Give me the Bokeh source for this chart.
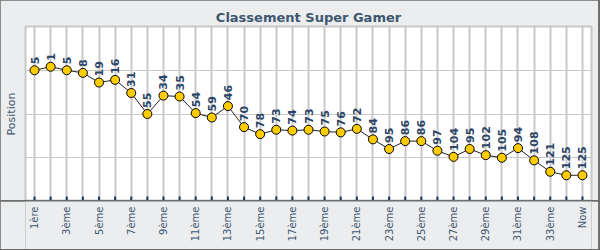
import math
from bokeh.plotting import figure
from bokeh.models import (ColumnDataSource, Range1d, FactorRange, FixedTicker,
                          Grid, CategoricalTicker)
from bokeh.layouts import column
from bokeh.core.properties import value
from bokeh.embed import file_html
from bokeh.resources import INLINE

categories = ["1ère", "2ème", "3ème", "4ème", "5ème", "6ème", "7ème", "8ème", "9ème",
              "10ème", "11ème", "12ème", "13ème", "14ème", "15ème", "16ème", "17ème",
              "18ème", "19ème", "20ème", "21ème", "22ème", "23ème", "24ème", "25ème",
              "26ème", "27ème", "28ème", "29ème", "30ème", "31ème", "32ème", "33ème",
              "34ème", "Now"]
positions = [5, 1, 5, 8, 19, 16, 31, 55, 34, 35, 54, 59, 46, 70, 78, 73, 74, 73,
             75, 76, 72, 84, 95, 86, 86, 97, 104, 95, 102, 105, 94, 108, 121, 125, 125]
y_ticks = [-45, 5, 55, 105, 155]
title_text = "Classement Super Gamer"
y_title = "Position"

FONT = "DejaVu Sans"
TXT = "#3E576F"
BG = "#ECEDEF"
GRID = "#C8C8C8"
TICK = "#1F3A60"
Y_MIN, Y_MAX = -45, 155

src = ColumnDataSource(dict(x=categories, y=positions, lab=[str(v) for v in positions]))
tickmark_src = ColumnDataSource(dict(x=categories, y=[Y_MAX] * len(categories)))
tick_labels = [c for i, c in enumerate(categories) if i % 2 == 0]
label_src = ColumnDataSource(dict(x=tick_labels, y=[1] * len(tick_labels), t=tick_labels))

xr = FactorRange(factors=categories, range_padding=0.0035)

# ---- main chart ----
p = figure(x_range=xr, y_range=Range1d(Y_MAX, Y_MIN),
           frame_width=566, frame_height=174,
           min_border_left=25, min_border_right=7, min_border_top=26, min_border_bottom=0,
           x_axis_location=None,
           output_backend="svg", toolbar_location=None, title=title_text)

p.border_fill_color = BG
p.background_fill_color = "white"
p.outline_line_color = GRID
p.outline_line_width = 2

p.title.align = "center"
p.title.text_font = FONT
p.title.text_font_size = "13px"
p.title.text_font_style = "bold"
p.title.text_color = TXT
p.title.offset = 0
p.title.standoff = 4

p.center = [r for r in p.center if not (isinstance(r, Grid) and r.dimension == 0)]
p.add_layout(Grid(dimension=0, ticker=CategoricalTicker(),
                  grid_line_color=GRID, grid_line_width=2), "center")
p.ygrid.grid_line_color = GRID
p.ygrid.grid_line_width = 1
p.ygrid.ticker = FixedTicker(ticks=y_ticks)
p.yaxis.ticker = FixedTicker(ticks=[])

ya = p.yaxis[0]
ya.axis_line_color = None
ya.major_tick_line_color = None
ya.minor_tick_line_color = None
ya.major_tick_out = 0
ya.major_tick_in = 0
ya.major_label_standoff = 0
ya.axis_label = y_title
ya.axis_label_text_font = FONT
ya.axis_label_text_font_size = "11px"
ya.axis_label_text_font_style = "normal"
ya.axis_label_text_color = TXT
ya.axis_label_standoff = 8

# inward tick marks along the bottom edge (half of each dash is clipped by the frame)
p.scatter("x", "y", source=tickmark_src, marker="dash", angle=math.pi / 2, size=10,
          line_color=TICK, line_width=2)

p.line("x", "y", source=src, line_color="#222222", line_width=1)
p.scatter("x", "y", source=src, size=9, fill_color="#FFCC00", line_color="black", line_width=1)
p.text("x", "y", text="lab", source=src, angle=math.pi / 2, text_align="left",
       text_baseline="middle", y_offset=-6, text_font=value(FONT),
       text_font_size="11px", text_font_style="bold", text_color="#2C4566")

# ---- x tick labels strip ----
p2 = figure(x_range=xr, y_range=Range1d(0, 1),
            frame_width=566, frame_height=48,
            min_border_left=25, min_border_right=7, min_border_top=0, min_border_bottom=0,
            x_axis_location=None, y_axis_location=None,
            output_backend="svg", toolbar_location=None)
p2.center = []
p2.border_fill_color = BG
p2.background_fill_color = BG
p2.outline_line_color = None
p2.text("x", "y", text="t", source=label_src, angle=math.pi / 2, text_align="right",
        text_baseline="middle", y_offset=5, text_font=value(FONT),
        text_font_size="10px", text_color=TXT)

lay = column(p, p2, width=600, height=250, spacing=0,
             styles={"background-color": "#6E6E6E"})
open("out.html", "w").write(file_html(lay, INLINE))
